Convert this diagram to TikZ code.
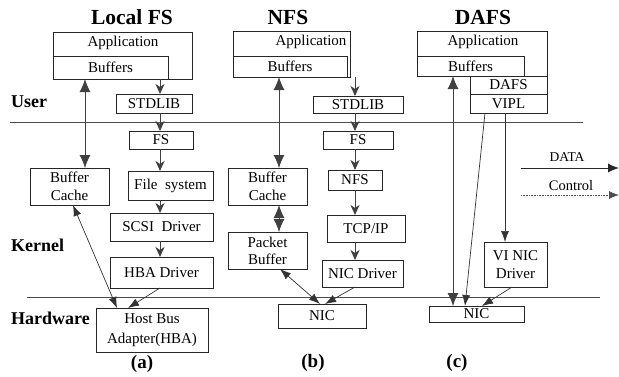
\documentclass[tikz,border=0pt]{standalone}
\usepackage{fontspec}
\setmainfont{Liberation Serif}
\usetikzlibrary{arrows.meta}
\begin{document}
\begin{tikzpicture}[x=1pt,y=-1pt,
  box/.style={draw=black!85,line width=0.7pt,inner sep=0pt,outer sep=0pt,font=\fontsize{15}{18}\selectfont,align=center},
  txt/.style={inner sep=0pt,font=\fontsize{15}{18}\selectfont},
  ttl/.style={inner sep=0pt,font=\fontsize{21.5}{24}\selectfont\bfseries},
  side/.style={inner sep=0pt,anchor=west,font=\fontsize{18}{20}\selectfont\bfseries},
  sub/.style={inner sep=0pt,font=\fontsize{19}{22}\selectfont\bfseries},
  chain/.style={draw=black!75,line width=0.9pt,-{Stealth[length=10pt,width=9pt,inset=3pt]}},
  dbl/.style={draw=black!75,line width=0.9pt,{Latex[length=13pt,width=11pt]}-{Latex[length=13pt,width=11pt]}},
  thin/.style={draw=black!80,line width=0.7pt,-{Latex[length=11pt,width=8pt]}},
  thindbl/.style={draw=black!80,line width=0.7pt,{Latex[length=11pt,width=8pt]}-{Latex[length=11pt,width=8pt]}},
  sep/.style={draw=black!70,line width=0.8pt}]
\useasboundingbox (0,0) rectangle (619,376);
\newcommand{\bx}[6]{\node[box,minimum width={#4-#2},minimum height={#5-#3}] (#1) at ({(#2+#4)/2},{(#3+#5)/2}) {#6};}
% separators
\coordinate (ul) at (10,122); \coordinate (ur) at (583,122);
\coordinate (hl) at (27,297); \coordinate (hr) at (600,297);
\draw[sep] (ul) -- (ur);
\draw[sep] (hl) -- (hr);
% titles and side labels
\node[ttl] (tA) at (132,17) {Local FS};
\node[ttl] (tB) at (288,17) {NFS};
\node[ttl] (tC) at (483,17) {DAFS};
\node[side] (lu) at (11,102) {User};
\node[side] (lk) at (11,245) {Kernel};
\node[side] (lh) at (11,318) {Hardware};
\node[sub] (sa) at (142,364) {(a)};
\node[sub] (sb) at (313,363) {(b)};
\node[sub] (sc) at (457,363) {(c)};
% ---------- Local FS
\bx{appA}{53}{32}{192}{79}{}
\node[txt] (appAt) at (123,43) {Application};
\bx{bufA}{53}{56}{168}{79}{Buffers}
\bx{stdA}{116}{94}{192}{113}{STDLIB}
\bx{fsA}{129}{131}{193}{149}{FS}
\bx{fsysA}{128}{171}{213}{200}{File\ \ system}
\bx{bcA}{30}{168}{109}{205}{Buffer\\Cache}
\bx{scsiA}{110}{213}{213}{241}{SCSI\ \ Driver}
\bx{hbadA}{110}{257}{213}{288}{HBA Driver}
\node[box,minimum width=112,minimum height=44,font=\fontsize{15}{20}\selectfont] (hbaA) at (152,330) {Host Bus\\Adapter(HBA)};
\coordinate (xA) at (160,0);
\draw[chain] (bufA.south -| xA) -- (stdA.north -| xA);
\draw[chain] (stdA.south -| xA) -- (fsA.north -| xA);
\draw[chain] (fsA.south -| xA) -- (fsysA.north -| xA);
\draw[chain] (fsysA.south -| xA) -- (scsiA.north -| xA);
\draw[chain] (scsiA.south -| xA) -- (hbadA.north -| xA);
\draw[thin] (hbadA.south -| xA) -- ([xshift=-24]hbaA.north);
\draw[dbl] ([xshift=-25.5]bufA.south) -- ([xshift=15.5]bcA.north);
\draw[thindbl] ([xshift=3.5]bcA.south) -- ([xshift=-35]hbaA.north);
% ---------- NFS
\bx{appB}{233}{31}{350}{77}{}
\node[txt] (appBt) at (311,42) {Application};
\bx{bufB}{233}{56}{347}{77}{Buffers}
\bx{stdB}{313}{96}{403}{113}{STDLIB}
\bx{fsB}{323}{131}{393}{149}{FS}
\bx{nfsB}{328}{170}{382}{190}{NFS}
\bx{bcB}{228}{168}{307}{205}{Buffer\\Cache}
\bx{tcpB}{327}{215}{405}{242}{TCP/IP}
\bx{nicdB}{322}{260}{403}{287}{NIC Driver}
\node[box,minimum width=79,minimum height=37,font=\fontsize{15}{17}\selectfont] (pbB) at (267.5,250.5) {Packet\\Buffer};
\bx{nicB}{278}{304}{366}{328}{NIC}
\coordinate (xB) at (355,0);
\coordinate (xB2) at (279,0);
\draw[chain] (bufB.south -| xB) -- (stdB.north -| xB);
\draw[chain] (stdB.south -| xB) -- (fsB.north -| xB);
\draw[chain] (fsB.south -| xB) -- (nfsB.north -| xB);
\draw[chain] (nfsB.south -| xB) -- (tcpB.north -| xB);
\draw[chain] (tcpB.south -| xB) -- (nicdB.north -| xB);
\draw[thin] (nicdB.south -| xB) -- ([xshift=3]nicB.north);
\draw[dbl] (bufB.south -| xB2) -- (bcB.north -| xB2);
\draw[dbl] (bcB.south -| xB2) -- (pbB.north -| xB2);
\draw[thindbl] ([xshift=12.5]pbB.south) -- ([xshift=-2]nicB.north);
% ---------- DAFS
\bx{appC}{417}{31}{547}{76}{}
\node[txt] (appCt) at (483,42) {Application};
\bx{bufC}{417}{56}{524}{76}{Buffers}
\bx{dafsC}{470}{76}{547}{94}{DAFS}
\bx{viplC}{470}{94}{547}{113}{VIPL}
\node[box,minimum width=63,minimum height=45,font=\fontsize{15}{18}\selectfont] (vinicC) at (515.5,264.5) {VI NIC\\Driver};
\bx{nicC}{429}{306}{524}{322}{NIC}
\coordinate (xC) at (453,0);
\coordinate (xC2) at (505,0);
\draw[dbl] (bufC.south -| xC) -- (nicC.north -| xC);
\draw[thin] ([xshift=-23.5]viplC.south) -- ([xshift=-11.5]nicC.north);
\draw[thin] (viplC.south -| xC2) -- (vinicC.north -| xC2);
\draw[thin] ([xshift=-3.5]vinicC.south) -- ([xshift=5.5]nicC.north);
% ---------- legend
\coordinate (d1) at (521,168); \coordinate (d2) at (619,168);
\coordinate (c1) at (521,195); \coordinate (c2) at (619,195);
\draw[draw=black!85,line width=1pt,-{Latex[length=11pt,width=9pt]}] (d1) -- (d2);
\draw[draw=black!70,line width=0.8pt,dash pattern=on 0.8pt off 0.8pt,-{Latex[length=10pt,width=8pt]}] (c1) -- (c2);
\node[inner sep=0pt,font=\fontsize{13.5}{16}\selectfont] (ld) at (567,157) {DATA};
\node[inner sep=0pt,font=\fontsize{14.5}{16}\selectfont] (lc) at (571,186) {Control};
\end{tikzpicture}
\end{document}
